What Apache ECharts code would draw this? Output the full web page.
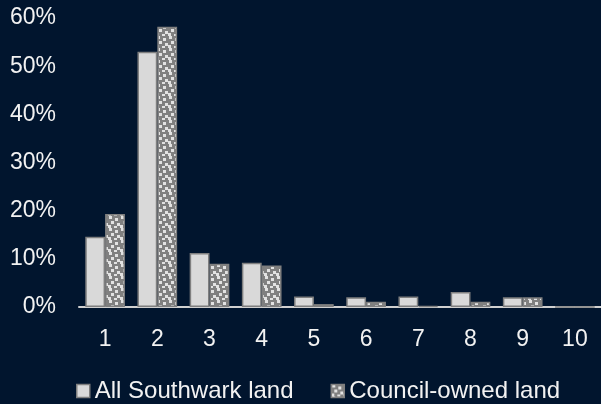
<!DOCTYPE html>
<html>
<head>
<meta charset="utf-8">
<script src="https://cdn.jsdelivr.net/npm/echarts@6/dist/echarts.min.js"></script>
<style>
  html, body { margin: 0; padding: 0; background: #01152e; }
  #chart { width: 601px; height: 404px; }
</style>
</head>
<body>
<div id="chart"></div>
<script>
// Land holdings by band, share of total (%)
const categories = ['1', '2', '3', '4', '5', '6', '7', '8', '9', '10'];
const allSouthwark = [14.6, 53.0, 11.2, 9.2, 2.2, 2.0, 2.2, 3.1, 2.0, 0];
const councilOwned = [19.3, 58.2, 9.0, 8.6, 0.6, 1.1, 0.2, 1.1, 2.0, 0];
const seriesNames = ['All Southwark land', 'Council-owned land'];

// Confetti-style fill: light squares scattered on mid grey
function confettiPattern() {
  const c = document.createElement('canvas');
  c.width = 12; c.height = 12;
  const g = c.getContext('2d');
  g.fillStyle = '#808080';
  g.fillRect(0, 0, 12, 12);
  g.fillStyle = '#e2e2e2';
  [[1, 0], [7, 2], [3, 5], [9, 7], [0, 9], [6, 10]].forEach(([x, y]) => {
    g.fillRect(x, y, 3, 3);
  });
  return { image: c, repeat: 'repeat' };
}
const confetti = confettiPattern();

const font = '"Liberation Sans", Arial, sans-serif';
const chart = echarts.init(document.getElementById('chart'), null, { renderer: 'canvas' });

chart.setOption({
  backgroundColor: '#01152e',
  animation: false,
  grid: { left: 79, top: 18, width: 529, height: 289, containLabel: false },
  legend: {
    top: 379,
    left: 76,
    padding: 0,
    itemWidth: 13,
    itemHeight: 13,
    itemGap: 37,
    icon: 'rect',
    textStyle: { color: '#f2f2f2', fontSize: 24, fontFamily: font },
    data: [
      { name: seriesNames[0], itemStyle: { color: '#d9d9d9', borderColor: '#7f7f7f', borderWidth: 1.5 } },
      { name: seriesNames[1], itemStyle: { color: confetti, borderColor: '#7f7f7f', borderWidth: 1.5 } }
    ]
  },
  xAxis: {
    type: 'category',
    data: categories,
    axisLine: { lineStyle: { color: '#d0d0d0', width: 2 } },
    axisTick: { show: false },
    axisLabel: { color: '#f2f2f2', fontSize: 23, fontFamily: font, margin: 21 }
  },
  yAxis: {
    type: 'value',
    min: 0,
    max: 60,
    interval: 10,
    axisLine: { show: false },
    axisTick: { show: false },
    splitLine: { show: false },
    axisLabel: { color: '#f2f2f2', fontSize: 23, fontFamily: font, margin: 23, formatter: '{value}%' }
  },
  series: [
    {
      name: seriesNames[0],
      type: 'bar',
      data: allSouthwark,
      barGap: '0%',
      barCategoryGap: '24%',
      itemStyle: { color: '#d9d9d9', borderColor: '#7f7f7f', borderWidth: 1.5 }
    },
    {
      name: seriesNames[1],
      type: 'bar',
      data: councilOwned,
      barGap: '0%',
      barCategoryGap: '24%',
      itemStyle: { color: confetti, borderColor: '#7f7f7f', borderWidth: 1.5 }
    }
  ]
});
</script>
</body>
</html>
